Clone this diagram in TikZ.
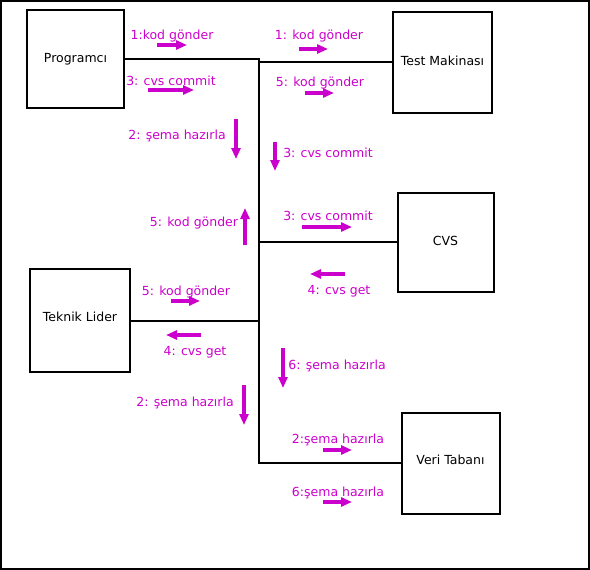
\documentclass[tikz,border=0pt]{standalone}
\usepackage{fontspec}
\setmainfont{DejaVu Sans}
\usetikzlibrary{arrows.meta}
\definecolor{mag}{RGB}{204,0,204}
\tikzset{
  box/.style={draw=black, line width=2pt, minimum width=#1, inner sep=0pt, font=\fontsize{12.5}{14}\selectfont},
  conn/.style={draw=black, line width=2pt},
  lbl/.style={text=mag, anchor=mid, yshift=-2pt, inner sep=0pt, font=\fontsize{12.5}{14}\selectfont},
  marr/.style={draw=mag, line width=4pt, -{Triangle[length=11pt,width=9pt]}}
}
\begin{document}
\begin{tikzpicture}[x=1pt,y=-1pt]
\useasboundingbox (0,0) rectangle (590,570);
\draw[line width=2pt] (1,1) rectangle (589,569);
% boxes
\node[box=97pt, minimum height=98pt] (prog) at (75.5,59) {\raisebox{1pt}{Programcı}};
\node[box=99pt, minimum height=101pt] (test) at (442.5,62) {\raisebox{2pt}{Test Makinası}};
\node[box=96pt, minimum height=99pt] (cvs) at (445.5,242) {\raisebox{2pt}{CVS}};
\node[box=100pt, minimum height=103pt] (lider) at (80,320.5) {\raisebox{8pt}{Teknik Lider}};
\node[box=98pt, minimum height=101pt] (veri) at (450.5,463) {\raisebox{6pt}{Veri Tabanı}};
% trunk coordinates
\coordinate (jtop) at (259,59);
\coordinate (jbot) at (259,463);
\draw[conn] (prog.east) -- (jtop) -- (jbot) -- (veri.west);
\draw[conn] (test.west) -- (test.west -| jtop);
\draw[conn] (cvs.west) -- (cvs.west -| jtop);
\draw[conn] (lider.east) -- (lider.east -| jtop);
% labels and arrows
\node[lbl] (l1) at (172,35) {1:kod gönder};
\draw[marr] (157,45) -- (187,45);
\node[lbl] (l2) at (171,81) {3: cvs commit};
\draw[marr] (148,90) -- (194,90);
\node[lbl] (l3) at (177,135) {2: şema hazırla};
\draw[marr] (236,119) -- (236,159);
\node[lbl] (l4) at (319,35) {1: kod gönder};
\draw[marr] (299,49) -- (328,49);
\node[lbl] (l5) at (320,82) {5: kod gönder};
\draw[marr] (305,93) -- (334,93);
\node[lbl] (l6) at (328,153) {3: cvs commit};
\draw[marr] (275,142) -- (275,171);
\node[lbl] (l7) at (194,222) {5: kod gönder};
\draw[marr] (245,245) -- (245,208);
\node[lbl] (l8) at (328,216) {3: cvs commit};
\draw[marr] (302,227) -- (352,227);
\node[lbl] (l9) at (339,290) {4: cvs get};
\draw[marr] (345,274) -- (310,274);
\node[lbl] (l10) at (186,291) {5: kod gönder};
\draw[marr] (171,301) -- (200,301);
\node[lbl] (l11) at (195,351) {4: cvs get};
\draw[marr] (201,335) -- (166,335);
\node[lbl] (l12) at (185,402) {2: şema hazırla};
\draw[marr] (244,385) -- (244,425);
\node[lbl] (l13) at (337,365) {6: şema hazırla};
\draw[marr] (283,348) -- (283,388);
\node[lbl] (l14) at (338,439) {2:şema hazırla};
\draw[marr] (323,450) -- (352,450);
\node[lbl] (l15) at (338,492) {6:şema hazırla};
\draw[marr] (323,502) -- (352,502);
\end{tikzpicture}
\end{document}
